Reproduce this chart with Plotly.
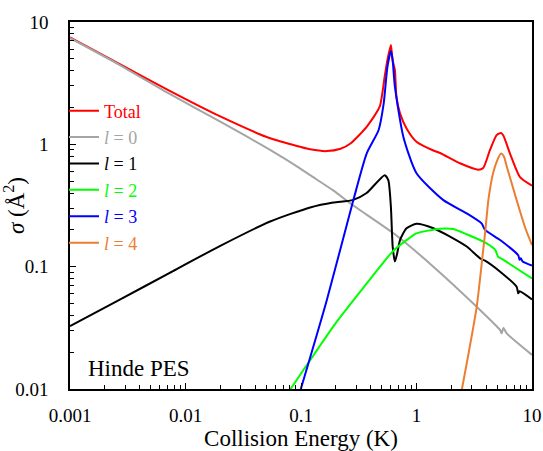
import plotly.graph_objects as go

# ---- data ----
total_E = [0.001, 0.0027, 0.0073, 0.02, 0.054, 0.098, 0.12, 0.167, 0.22, 0.27, 0.37, 0.48, 0.53,
           0.56, 0.60, 0.62, 0.65, 0.67, 0.72, 0.82, 1.0, 1.4, 1.6, 2.38, 3.43, 3.78, 4.33, 4.94,
           5.4, 5.65, 6.45, 7.87, 10.0]
total_s = [7.5, 4.52, 2.735, 1.69, 1.12, 0.955, 0.91, 0.88, 0.92, 1.02, 1.39, 2.03, 3.57,
           4.9, 6.5, 4.9, 4.05, 2.45, 1.79, 1.35, 1.05, 0.89, 0.85, 0.70, 0.62, 0.64, 0.90, 1.19,
           1.24, 1.18, 0.84, 0.54, 0.46]

l0_E = [0.001, 0.0027, 0.0073, 0.02, 0.054, 0.098, 0.12, 0.19, 0.284, 0.67, 1.4, 3.32, 5.3,
        5.46, 5.65, 6.04, 10.0]
l0_s = [7.4, 4.45, 2.58, 1.53, 0.90, 0.637, 0.56, 0.42, 0.316, 0.18, 0.10, 0.047, 0.0303,
        0.0285, 0.0316, 0.0285, 0.019]

l1_E = [0.001, 0.0027, 0.0073, 0.02, 0.054, 0.12, 0.19, 0.28, 0.37, 0.53, 0.57, 0.60, 0.622,
        0.65, 0.68, 0.72, 0.82, 1.0, 1.4, 1.95, 2.72, 3.55, 3.92, 5.3, 7.36, 7.6, 7.8, 10.0]
l1_s = [0.0327, 0.0537, 0.0891, 0.148, 0.234, 0.305, 0.335, 0.35, 0.40, 0.56, 0.51, 0.31, 0.146,
        0.11, 0.128, 0.165, 0.206, 0.224, 0.206, 0.176, 0.146, 0.117, 0.112, 0.091, 0.0686, 0.0605, 0.063, 0.054]

l2_E = [0.079, 0.098, 0.141, 0.204, 0.371, 0.483, 0.63, 0.794, 1.0, 1.6, 2.08, 2.72, 4.05, 4.8,
        5.1, 5.3, 10.0]
l2_s = [0.0096, 0.013, 0.0215, 0.0355, 0.073, 0.100, 0.135, 0.161, 0.187, 0.204, 0.203, 0.184,
        0.155, 0.137, 0.12, 0.118, 0.080]

l3_E = [0.098, 0.167, 0.284, 0.37, 0.47, 0.52, 0.56, 0.60, 0.62, 0.65, 0.77, 1.0, 1.71, 2.72,
        3.66, 3.92, 5.3, 7.6, 7.8, 8.0, 8.3, 10.0]
l3_s = [0.0095, 0.053, 0.35, 0.84, 1.31, 2.16, 4.3, 5.8, 5.0, 2.96, 1.15, 0.58, 0.35, 0.273,
        0.226, 0.20, 0.165, 0.124, 0.114, 0.117, 0.11, 0.102]

l4_E = [2.45, 3.32, 3.78, 3.95, 4.19, 4.6, 5.0, 5.4, 5.7, 6.04, 6.67, 7.36, 8.7, 10.0]
l4_s = [0.0095, 0.047, 0.137, 0.2, 0.35, 0.58, 0.74, 0.84, 0.80, 0.66, 0.48, 0.35, 0.21, 0.15]

x_ticks = [0.001, 0.01, 0.1, 1, 10]
x_ticklabels = ["0.001", "0.01", "0.1", "1", "10"]
y_ticks = [0.01, 0.1, 1, 10]
y_ticklabels = ["0.01", "0.1", "1", "10"]

series = [
    ("Total", total_E, total_s, "#FF0000"),
    ("<i>l</i> = 0", l0_E, l0_s, "#A5A5A5"),
    ("<i>l</i> = 1", l1_E, l1_s, "#000000"),
    ("<i>l</i> = 2", l2_E, l2_s, "#00FF00"),
    ("<i>l</i> = 3", l3_E, l3_s, "#0000FF"),
    ("<i>l</i> = 4", l4_E, l4_s, "#ED7D31"),
]

FONT = "Liberation Serif"


def minor_vals(decades):
    return [m * d for d in decades[:-1] for m in range(2, 10)]


fig = go.Figure()
for name, xs, ys, col in series:
    fig.add_trace(go.Scatter(
        x=xs, y=ys, mode="lines",
        name=f"<span style='color:{col}'>{name}</span>",
        line=dict(color=col, width=2, shape="spline", smoothing=0.6),
    ))

axis_common = dict(
    type="log", showgrid=False, zeroline=False, automargin=False,
    showline=True, linecolor="black", linewidth=1.5, mirror=True,
    ticks="inside", ticklen=6, tickwidth=1, tickcolor="black",
    tickfont=dict(family=FONT, size=19, color="black"),
)

fig.update_layout(
    width=543, height=451,
    margin=dict(l=70, r=11, t=22, b=62),
    paper_bgcolor="white", plot_bgcolor="white",
    showlegend=True,
    legend=dict(
        x=-0.013, y=0.808, xanchor="left", yanchor="top",
        bgcolor="rgba(0,0,0,0)", borderwidth=0,
        font=dict(family=FONT, size=18, color="black"),
        itemwidth=30,
    ),
    xaxis=dict(
        axis_common, range=[-3, 1],
        tickvals=x_ticks, ticktext=x_ticklabels,
        minor=dict(tickvals=minor_vals(x_ticks), ticks="inside", ticklen=4, tickwidth=1,
                   tickcolor="black", showgrid=False),
        ticklabelstandoff=8,
        title=dict(text="Collision Energy (K)", font=dict(family=FONT, size=23, color="black"), standoff=17),
    ),
    yaxis=dict(
        axis_common, range=[-2, 1],
        tickvals=y_ticks, ticktext=y_ticklabels,
        minor=dict(tickvals=minor_vals(y_ticks), ticks="inside", ticklen=4, tickwidth=1,
                   tickcolor="black", showgrid=False),
        ticklabelstandoff=16,
        title=dict(text="<i>σ</i> (Å<sup>2</sup>)", font=dict(family=FONT, size=23, color="black"), standoff=4),
    ),
    annotations=[dict(
        text="Hinde PES", xref="paper", yref="paper", x=0.034, y=0.057,
        xanchor="left", yanchor="middle", showarrow=False,
        font=dict(family=FONT, size=23, color="black"),
    )],
)

fig.write_html("out.html")
